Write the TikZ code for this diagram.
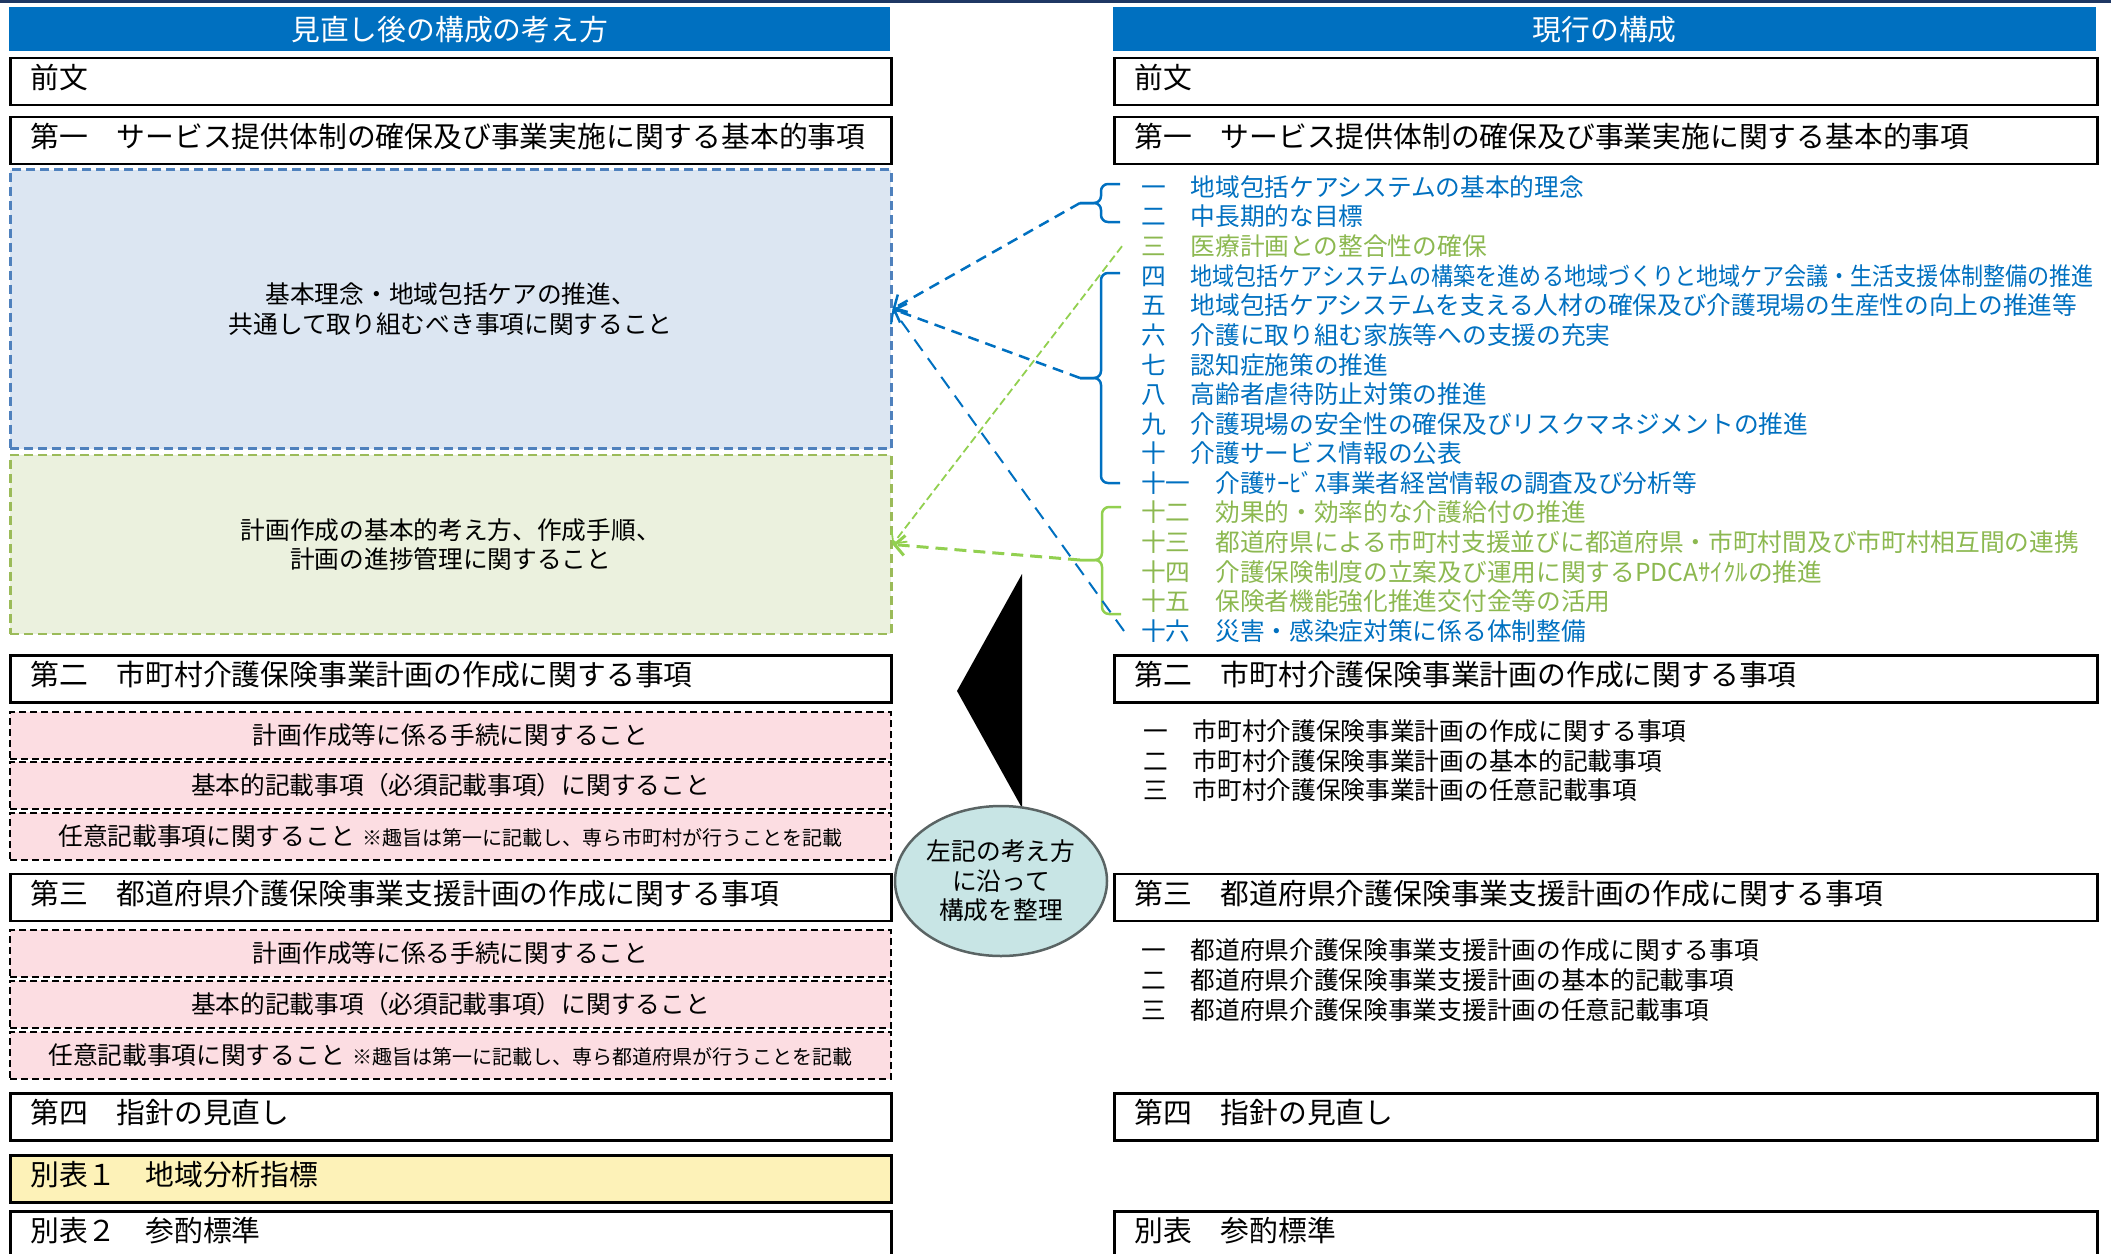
\documentclass[tikz,border=0pt]{standalone}
\usepackage{fontspec}
\setmainfont{Noto Sans CJK JP}
\usetikzlibrary{shapes.geometric,arrows.meta}
\definecolor{hdrblue}{RGB}{0,112,192}
\definecolor{listblue}{RGB}{0,112,192}
\definecolor{listgreen}{RGB}{140,184,80}
\definecolor{linegreen}{RGB}{146,208,80}
\definecolor{kihonfill}{RGB}{220,230,242}
\definecolor{kihonline}{RGB}{79,129,189}
\definecolor{keikakufill}{RGB}{235,241,222}
\definecolor{keikakuline}{RGB}{155,187,89}
\definecolor{pinkfill}{RGB}{252,221,226}
\definecolor{yellowfill}{RGB}{253,242,184}
\definecolor{ovalfill}{RGB}{200,229,229}
\definecolor{ovalline}{RGB}{90,100,100}
\definecolor{topnavy}{RGB}{31,56,100}
\newcommand\fsTitle{\fontsize{28.8}{34}\selectfont}
\newcommand\fsBody{\fontsize{24.7}{29.6}\selectfont}
\newcommand\fsNote{\fontsize{20}{24}\selectfont}

\begin{document}
\begin{tikzpicture}[x=1pt, y=-1pt, >={Straight Barb[length=10pt,width=20pt]},
		header/.style={fill=hdrblue, anchor=north west, minimum height=44pt, minimum width=#1, inner sep=0pt, text=white, font=\fsTitle},
		titlebox/.style={draw, line width=2.5pt, fill=white, anchor=north west, minimum height=47pt, inner xsep=20pt, inner ysep=0pt, text width=#1, text height=21pt, text depth=7pt, align=left, font=\fsTitle},
		pinkbox/.style={draw, fill=pinkfill, line width=2pt, dash pattern=on 7pt off 4pt, anchor=north west, minimum width=881pt, minimum height=47pt, inner sep=0pt, font=\fsBody},
		listitem/.style={anchor=west, inner sep=0pt, font=\fsBody, text=#1},
		brace/.style={line width=2.5pt, rounded corners=7pt},
		bluedash/.style={listblue, line width=2.5pt, dash pattern=on 11pt off 7pt}]
		\useasboundingbox (0,0) rectangle (2111,1253);
		\clip (0,0) rectangle (2111,1253);
		\fill[topnavy] (0,0) rectangle (2111,3);
		\node[header=881pt] (hdrL) at (9,7) {見直し後の構成の考え方};
		\node[header=983pt] (hdrR) at (1113,7) {現行の構成};
		\node[titlebox=841pt] (zenbunL) at (9,56.5) {前文};
		\node[titlebox=943pt] (zenbunR) at (1113,56.5) {前文};
		\node[titlebox=841pt] (dai1L) at (9,115.8) {第一　サービス提供体制の確保及び事業実施に関する基本的事項};
		\node[titlebox=943pt] (dai1R) at (1113,115.8) {第一　サービス提供体制の確保及び事業実施に関する基本的事項};
		\node[draw=kihonline, fill=kihonfill, line width=2.5pt, dash pattern=on 9pt off 5pt, anchor=north west, minimum width=881pt, minimum height=279pt, align=center, font=\fsBody] (kihon) at (9,168.3) {基本理念・地域包括ケアの推進、\\共通して取り組むべき事項に関すること};
		\node[draw=keikakuline, fill=keikakufill, line width=2.5pt, dash pattern=on 9pt off 5pt, anchor=north west, minimum width=881pt, minimum height=179pt, align=center, font=\fsBody] (keikaku) at (9,453.7) {計画作成の基本的考え方、作成手順、\\計画の進捗管理に関すること};
		\node[titlebox=841pt] (dai2L) at (9,654) {第二　市町村介護保険事業計画の作成に関する事項};
		\node[titlebox=943pt] (dai2R) at (1113,654) {第二　市町村介護保険事業計画の作成に関する事項};
		\node[pinkbox] (pinka1) at (9,711) {計画作成等に係る手続に関すること};
		\node[pinkbox] (pinka2) at (9,760.7) {基本的記載事項（必須記載事項）に関すること};
		\node[pinkbox] (pinka3) at (9,811.9) {任意記載事項に関すること\hspace{8pt}{\fsNote ※趣旨は第一に記載し、専ら市町村が行うことを記載}};
		\node[titlebox=841pt] (dai3L) at (9,872.5) {第三　都道府県介護保険事業支援計画の作成に関する事項};
		\node[titlebox=943pt] (dai3R) at (1113,872.5) {第三　都道府県介護保険事業支援計画の作成に関する事項};
		\node[pinkbox] (pinkb1) at (9,929) {計画作成等に係る手続に関すること};
		\node[pinkbox] (pinkb2) at (9,980) {基本的記載事項（必須記載事項）に関すること};
		\node[pinkbox] (pinkb3) at (9,1031) {任意記載事項に関すること\hspace{8pt}{\fsNote ※趣旨は第一に記載し、専ら都道府県が行うことを記載}};
		\node[titlebox=841pt] (dai4L) at (9,1092) {第四　指針の見直し};
		\node[titlebox=943pt] (dai4R) at (1113,1092) {第四　指針の見直し};
		\node[titlebox=841pt, fill=yellowfill] (beppyo1) at (9,1154) {別表１　地域分析指標};
		\node[titlebox=841pt] (beppyo2) at (9,1210) {別表２　参酌標準};
		\node[titlebox=943pt] (beppyoR) at (1113,1210) {別表　参酌標準};
		\node[listitem=listblue] (item1) at (1141,187) {一　地域包括ケアシステムの基本的理念};
		\node[listitem=listblue] (item2) at (1141,216.6) {二　中長期的な目標};
		\node[listitem=listgreen] (item3) at (1141,246.2) {三　医療計画との整合性の確保};
		\node[listitem=listblue] (item4) at (1141,275.8) {四　\scalebox{0.893}[1]{地域包括ケアシステムの構築を進める地域づくりと地域ケア会議・生活支援体制整備の推進}};
		\node[listitem=listblue] (item5) at (1141,305.4) {五　地域包括ケアシステムを支える人材の確保及び介護現場の生産性の向上の推進等};
		\node[listitem=listblue] (item6) at (1141,335) {六　介護に取り組む家族等への支援の充実};
		\node[listitem=listblue] (item7) at (1141,364.6) {七　認知症施策の推進};
		\node[listitem=listblue] (item8) at (1141,394.2) {八　高齢者虐待防止対策の推進};
		\node[listitem=listblue] (item9) at (1141,423.8) {九　介護現場の安全性の確保及びリスクマネジメントの推進};
		\node[listitem=listblue] (item10) at (1141,453.4) {十　介護サービス情報の公表};
		\node[listitem=listblue] (item11) at (1141,483) {十一　介護ｻｰﾋﾞｽ事業者経営情報の調査及び分析等};
		\node[listitem=listgreen] (item12) at (1141,512.6) {十二　効果的・効率的な介護給付の推進};
		\node[listitem=listgreen] (item13) at (1141,542.2) {十三　都道府県による市町村支援並びに都道府県・市町村間及び市町村相互間の連携};
		\node[listitem=listgreen] (item14) at (1141,571.8) {十四　介護保険制度の立案及び運用に関するPDCAｻｲｸﾙの推進};
		\node[listitem=listgreen] (item15) at (1141,601.4) {十五　保険者機能強化推進交付金等の活用};
		\node[listitem=listblue] (item16) at (1141,631) {十六　災害・感染症対策に係る体制整備};
		\node[listitem=black] (sub2a) at (1143,731) {一　市町村介護保険事業計画の作成に関する事項};
		\node[listitem=black] (sub2b) at (1143,760.7) {二　市町村介護保険事業計画の基本的記載事項};
		\node[listitem=black] (sub2c) at (1143,790.3) {三　市町村介護保険事業計画の任意記載事項};
		\node[listitem=black] (sub3a) at (1141,950.5) {一　都道府県介護保険事業支援計画の作成に関する事項};
		\node[listitem=black] (sub3b) at (1141,980) {二　都道府県介護保険事業支援計画の基本的記載事項};
		\node[listitem=black] (sub3c) at (1141,1010) {三　都道府県介護保険事業支援計画の任意記載事項};
		\fill (1022,574) -- (957,691) -- (1022,808) -- cycle;
		\node[ellipse, draw=ovalline, line width=2.5pt, fill=ovalfill, minimum width=212pt, minimum height=150pt, inner sep=0pt, align=center, font=\fsBody] (seiri) at (1001,881) {左記の考え方\\に沿って\\構成を整理};
		\coordinate (tipA) at (1080,203);
		\coordinate (tipB) at (1080,378);
		\coordinate (tipC) at (1080,560);
		\draw[brace, listblue] (1120,184) -- (1101,184) -- (1101,203) -- (tipA);
		\draw[brace, listblue] (1120,222) -- (1101,222) -- (1101,203) -- (tipA);
		\draw[brace, listblue] (1120,273) -- (1101,273) -- (1101,378) -- (tipB);
		\draw[brace, listblue] (1120,483) -- (1101,483) -- (1101,378) -- (tipB);
		\draw[brace, linegreen] (1121,507) -- (1102,507) -- (1102,560) -- (tipC);
		\draw[brace, linegreen] (1121,614) -- (1102,614) -- (1102,560) -- (tipC);
		\draw[->, bluedash] (tipA) to (kihon.east);
		\draw[->, bluedash] (tipB) to (kihon.east);
		\draw[->, listblue, line width=2pt, dash pattern=on 14pt off 9pt] ([xshift=-17pt]item16.west) to (kihon.east);
		\draw[->, linegreen, line width=1.8pt, dash pattern=on 8pt off 4pt] ([xshift=-19pt]item3.west) to (keikaku.east);
		\draw[->, linegreen, line width=3pt, dash pattern=on 12pt off 7pt] (tipC) to (keikaku.east);
\end{tikzpicture}
\end{document}
